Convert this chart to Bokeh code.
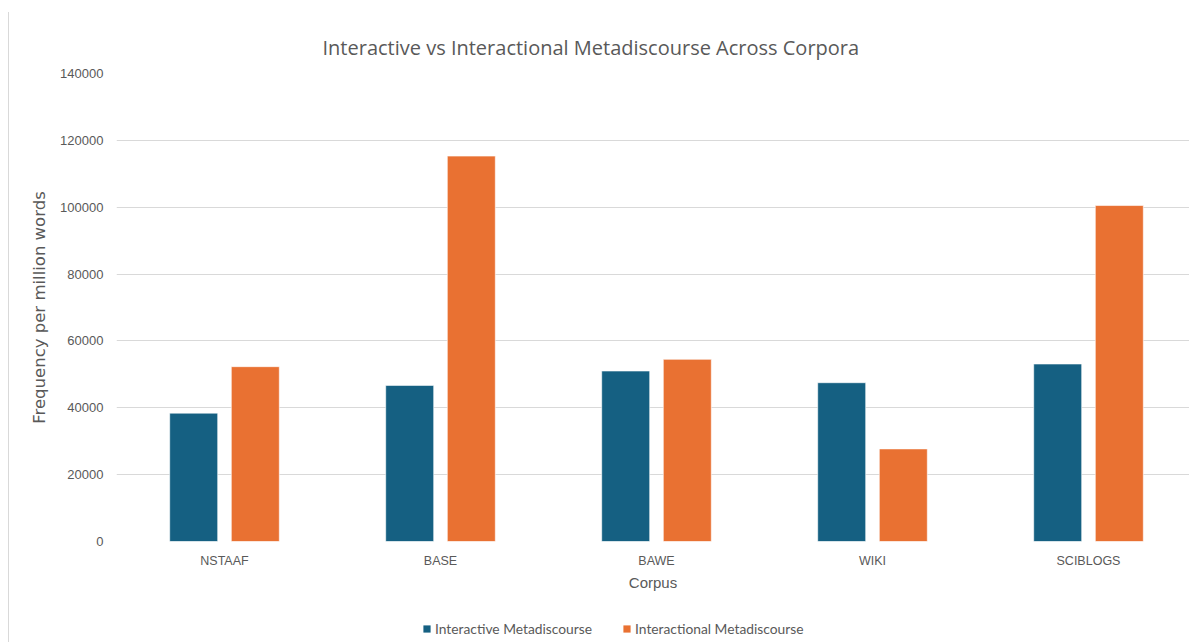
from bokeh.plotting import figure
from bokeh.layouts import column
from bokeh.models import (ColumnDataSource, Range1d, FixedTicker, NumeralTickFormatter,
                          Legend, LegendItem)
from bokeh.embed import file_html
from bokeh.resources import INLINE

# Frequency per million words for each corpus
corpora = ["NSTAAF", "BASE", "BAWE", "WIKI", "SCIBLOGS"]
interactive = [38400, 46700, 51000, 47500, 53100]
interactional = [52300, 115300, 54500, 27700, 100500]
y_ticks = [0, 20000, 40000, 60000, 80000, 100000, 120000, 140000]

BLUE = "#156082"
ORANGE = "#E97132"
GREY_TEXT = "#595959"
GRID = "#d9d9d9"

slot = 216.0            # px per category slot
frame_w = 1073          # visible frame width
centers = [i + 0.5 for i in range(len(corpora))]
bar_w = 48 / slot
off = 30.8 / slot

src = ColumnDataSource(dict(
    xa=[c - off for c in centers],
    xb=[c + off for c in centers],
    interactive=interactive,
    interactional=interactional,
))

p = figure(width=1180, height=600, output_backend="svg", toolbar_location=None,
           x_range=Range1d(0, frame_w / slot), y_range=Range1d(0, 140000),
           min_border_left=107, min_border_right=0, min_border_top=61,
           min_border_bottom=71, outline_line_color=None)

p.vbar(x="xa", top="interactive", fill_color=BLUE, width=bar_w, source=src,
       line_color="#ffffff", line_width=0.6)
p.vbar(x="xb", top="interactional", fill_color=ORANGE, width=bar_w, source=src,
       line_color="#ffffff", line_width=0.6)

# title
p.title.text = "Interactive vs Interactional Metadiscourse Across Corpora"
p.title.align = "left"
p.title.offset = 206
p.title.text_font = "Open Sans"
p.title.text_font_size = "20px"
p.title.text_font_style = "normal"
p.title.text_color = GREY_TEXT
p.title.standoff = 25

# grid
p.xgrid.grid_line_color = None
p.ygrid.grid_line_color = GRID
p.ygrid.grid_line_width = 1.2
p.ygrid.ticker = FixedTicker(ticks=y_ticks)

# y axis
p.yaxis.ticker = FixedTicker(ticks=y_ticks)
p.yaxis.formatter = NumeralTickFormatter(format="0")
p.yaxis.axis_line_color = None
p.yaxis.major_tick_line_color = None
p.yaxis.minor_tick_line_color = None
p.yaxis.major_tick_out = 0
p.yaxis.minor_tick_out = 0
p.yaxis.major_label_standoff = 13
p.yaxis.major_label_text_font = "Liberation Sans"
p.yaxis.major_label_text_font_size = "13px"
p.yaxis.major_label_text_color = GREY_TEXT
p.yaxis.axis_label = "Frequency per million words"
p.yaxis.axis_label_text_font = "DejaVu Sans"
p.yaxis.axis_label_text_font_size = "16.5px"
p.yaxis.axis_label_text_font_style = "normal"
p.yaxis.axis_label_text_color = GREY_TEXT
p.yaxis.axis_label_standoff = 8

# x axis
p.xaxis.ticker = FixedTicker(ticks=centers)
p.xaxis.major_label_overrides = {c: name for c, name in zip(centers, corpora)}
p.xaxis.axis_line_color = None
p.xaxis.major_tick_line_color = None
p.xaxis.minor_tick_line_color = None
p.xaxis.major_tick_out = 0
p.xaxis.minor_tick_out = 0
p.xaxis.major_label_standoff = 12
p.xaxis.major_label_text_font = "Liberation Sans"
p.xaxis.major_label_text_font_size = "12.5px"
p.xaxis.major_label_text_color = GREY_TEXT
p.xaxis.axis_label = "Corpus"
p.xaxis.axis_label_text_font = "Liberation Sans"
p.xaxis.axis_label_text_font_size = "15px"
p.xaxis.axis_label_text_font_style = "normal"
p.xaxis.axis_label_text_color = GREY_TEXT
p.xaxis.axis_label_standoff = 3

# legend strip underneath the chart; its bars sit far outside the visible y range
lg = figure(width=1180, height=30, output_backend="svg", toolbar_location=None,
            x_range=p.x_range, y_range=Range1d(1e6, 2e6),
            min_border=0, outline_line_color=None)
lg.axis.visible = False
lg.grid.visible = False
l1 = lg.vbar(x="xa", top="interactive", fill_color=BLUE, width=bar_w, source=src,
             line_color=None)
l2 = lg.vbar(x="xb", top="interactional", fill_color=ORANGE, width=bar_w, source=src,
             line_color=None)

legend = Legend(items=[
    LegendItem(label="Interactive Metadiscourse", renderers=[l1]),
    LegendItem(label="Interactional Metadiscourse", renderers=[l2]),
], orientation="horizontal", location=(306, 5))
legend.border_line_color = None
legend.background_fill_alpha = 0
legend.label_text_font = "Lato"
legend.label_text_font_size = "13.8px"
legend.label_text_color = GREY_TEXT
legend.glyph_width = 9
legend.glyph_height = 9
legend.label_standoff = 4
legend.spacing = 30
legend.padding = 0
legend.margin = 0
lg.add_layout(legend, "center")

layout = column(p, lg, spacing=0)
layout.margin = (12, 0, 0, 8)
layout.styles = {"border-left": "1px solid #d9d9d9"}

open("out.html", "w").write(file_html(layout, INLINE))
